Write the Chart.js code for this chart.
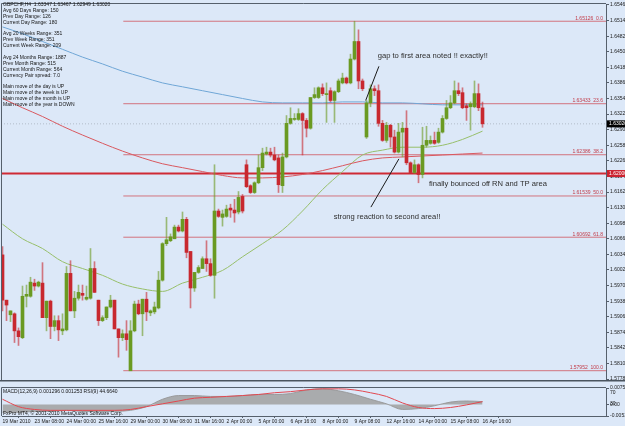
<!DOCTYPE html>
<html><head><meta charset="utf-8">
<script src="https://cdn.jsdelivr.net/npm/chart.js@4.4.1/dist/chart.umd.min.js"></script>
<style>
html,body{margin:0;padding:0;background:#dce8f8;width:625px;height:426px;overflow:hidden;}
#c1{position:absolute;left:0;top:0;}
#c2{position:absolute;left:0;top:384px;}
</style></head><body>
<canvas id="c1" width="625" height="384"></canvas>
<canvas id="c2" width="625" height="42"></canvas>
<script>
// ---------------- data ----------------
const symbolHeader = 'GBPCHF,H4  1.63347 1.63467 1.62949 1.63020';
const opens = [1.6033,1.5940,1.5910,1.5912,1.5877,1.5863,1.5948,1.5948,1.5975,1.5969,
1.5975,1.5904,1.5938,1.5886,1.5898,1.5877,1.5879,1.5995,1.5918,1.5944,
1.5954,1.5942,1.5944,1.6005,1.5940,1.5898,1.5904,1.5926,1.5940,1.5881,
1.5863,1.5871,1.5795,1.5877,1.5932,1.5912,1.5942,1.5914,1.5916,1.5924,
1.5981,1.6056,1.6062,1.6066,1.6090,1.6082,1.6106,1.6040,1.5965,1.5997,
1.6005,1.6025,1.6015,1.5991,1.6123,1.6110,1.6112,1.6129,1.6125,1.6121,
1.6153,1.6218,1.6175,1.6161,1.6181,1.6212,1.6240,1.6244,1.6238,1.6232,
1.6175,1.6234,1.6303,1.6311,1.6311,1.6323,1.6309,1.6293,1.6356,1.6356,
1.6376,1.6362,1.6370,1.6350,1.6368,1.6386,1.6396,1.6386,1.6435,1.6471,
1.6390,1.6275,1.6345,1.6374,1.6370,1.6303,1.6268,1.6299,1.6275,1.6244,
1.6285,1.6293,1.6222,1.6202,1.6218,1.6198,1.6258,1.6262,1.6268,1.6264,
1.6285,1.6313,1.6335,1.6345,1.6370,1.6366,1.6339,1.6337,1.6337,1.6364,
1.63347];
const highs = [1.6050,1.5940,1.5918,1.5914,1.5883,1.5969,1.5971,1.5987,1.5983,1.5979,
1.6017,1.5938,1.5940,1.5908,1.5908,1.5912,1.6009,1.6021,1.5958,1.5971,
1.5971,1.5969,1.6046,1.6019,1.5940,1.5908,1.5926,1.5950,1.5940,1.5881,
1.5879,1.5898,1.5898,1.5938,1.5940,1.5942,1.5956,1.5920,1.5936,1.5999,
1.6058,1.6110,1.6076,1.6094,1.6094,1.6121,1.6110,1.6040,1.5997,1.6011,
1.6029,1.6062,1.6025,1.6218,1.6127,1.6125,1.6135,1.6137,1.6147,1.6163,
1.6157,1.6228,1.6177,1.6183,1.6238,1.6252,1.6254,1.6252,1.6254,1.6238,
1.6242,1.6319,1.6335,1.6323,1.6333,1.6325,1.6313,1.6356,1.6376,1.6378,
1.6384,1.6386,1.6376,1.6370,1.6394,1.6406,1.6398,1.6445,1.65126,1.6495,
1.6394,1.6350,1.6382,1.6380,1.6382,1.6309,1.6305,1.6301,1.6289,1.6303,
1.6305,1.6329,1.6224,1.6228,1.6220,1.6295,1.6297,1.6277,1.6285,1.6293,
1.6319,1.6350,1.6360,1.6390,1.6386,1.6376,1.6343,1.6347,1.6390,1.6384,
1.63467];
const lows = [1.5918,1.5898,1.5896,1.5853,1.5847,1.5861,1.5926,1.5946,1.5960,1.5967,
1.5904,1.5877,1.5861,1.5877,1.5857,1.5869,1.5877,1.5918,1.5904,1.5940,
1.5940,1.5940,1.5942,1.5956,1.5888,1.5896,1.5900,1.5924,1.5881,1.5823,
1.5857,1.5837,1.57952,1.5875,1.5910,1.5867,1.5898,1.5908,1.5912,1.5922,
1.5979,1.6052,1.6060,1.6066,1.6080,1.6080,1.6027,1.5924,1.5958,1.5995,
1.6005,1.5999,1.5989,1.5944,1.6110,1.6092,1.6110,1.6110,1.6100,1.6117,
1.6119,1.6171,1.6159,1.6159,1.6179,1.6206,1.6238,1.6234,1.6226,1.6161,
1.6161,1.6232,1.6301,1.6309,1.6309,1.6238,1.6275,1.6291,1.6354,1.6354,
1.6360,1.6305,1.6347,1.6305,1.6366,1.6384,1.6384,1.6384,1.6433,1.6374,
1.6370,1.6272,1.6337,1.6360,1.6297,1.6266,1.6264,1.6254,1.6242,1.6242,
1.6234,1.6218,1.6200,1.6200,1.6181,1.6191,1.6254,1.6260,1.6260,1.6262,
1.6283,1.6311,1.6333,1.6343,1.6360,1.6333,1.6309,1.6289,1.6335,1.6329,
1.62949];
const closes = [1.5940,1.5930,1.5918,1.5877,1.5865,1.5948,1.5952,1.5977,1.5969,1.5977,
1.5904,1.5938,1.5886,1.5898,1.5879,1.5881,1.5995,1.5918,1.5944,1.5956,
1.5950,1.5946,1.6005,1.5956,1.5898,1.5904,1.5926,1.5940,1.5881,1.5863,
1.5871,1.5859,1.5877,1.5932,1.5912,1.5942,1.5916,1.5918,1.5926,1.5981,
1.6056,1.6064,1.6070,1.6090,1.6082,1.6106,1.6038,1.5965,1.5997,1.6007,
1.6025,1.6015,1.5991,1.6123,1.6112,1.6117,1.6127,1.6125,1.6119,1.6151,
1.6123,1.6173,1.6161,1.6181,1.6212,1.6242,1.6244,1.6238,1.6228,1.6177,
1.6234,1.6303,1.6313,1.6313,1.6323,1.6309,1.6293,1.6356,1.6362,1.6376,
1.6364,1.6364,1.6350,1.6368,1.6390,1.6396,1.6386,1.6435,1.6471,1.6390,
1.6374,1.6345,1.6374,1.6370,1.6303,1.6268,1.6299,1.6275,1.6244,1.6285,
1.6293,1.6222,1.6202,1.6218,1.6198,1.6258,1.6268,1.6268,1.6262,1.6285,
1.6313,1.6335,1.6345,1.6370,1.6364,1.6335,1.6335,1.6343,1.6364,1.6335,
1.63020];

const timeLabels = ['19 Mar 2010','23 Mar 08:00','24 Mar 00:00','25 Mar 16:00','29 Mar 00:00','30 Mar 08:00','31 Mar 16:00','2 Apr 00:00','5 Apr 00:00','6 Apr 16:00','8 Apr 00:00','9 Apr 08:00','12 Apr 16:00','14 Apr 00:00','15 Apr 08:00','16 Apr 16:00'];
const barsPerTimeLabel = 8;
const priceTicks = [1.65460,1.65140,1.64820,1.64500,1.64180,1.63860,1.63540,1.63220,1.62900,1.62580,1.62260,1.61940,1.61620,1.61300,1.60980,1.60660,1.60340,1.60020,1.59700,1.59380,1.59060,1.58740,1.58420,1.58100,1.57780];

// moving averages sampled every 5 bars
const maBars  = [0,5,10,15,20,25,30,35,40,45,50,55,60,65,70,75,80,85,90,95,100,105,110,115,120];
const maBlue  = [1.6501,1.6487,1.6471,1.6455,1.6439,1.6425,1.6410,1.6398,1.6386,1.6378,1.6370,1.6362,1.6354,1.6347,1.6345,1.6345,1.6345,1.6347,1.6347,1.6345,1.6345,1.6343,1.6341,1.6341,1.6341];
const maRed   = [1.6354,1.6335,1.6317,1.6297,1.6279,1.6262,1.6246,1.6232,1.6220,1.6212,1.6204,1.6196,1.6191,1.6191,1.6193,1.6198,1.6206,1.6216,1.6226,1.6232,1.6234,1.6236,1.6238,1.6240,1.6242];
const maGreen = [1.6096,1.6066,1.6046,1.6019,1.6005,1.5991,1.5973,1.5963,1.5958,1.5975,1.5987,1.6001,1.6029,1.6056,1.6084,1.6123,1.6167,1.6204,1.6238,1.6248,1.6254,1.6254,1.6258,1.6270,1.6287];

// Fibonacci retracement object
const fibHigh = 1.65126, fibLow = 1.57952;
const fibLevels = [0, 23.6, 38.2, 50, 61.8, 100];
const fibStartBar = 30.2;
const roundNumber = 1.62000;
const lastPrice = 1.63020;

// hand-drawn trend lines and comments (bar index, price)
const trendLineA = [[90.8, 1.6350], [94.1, 1.6420]];
const trendLineB = [[92.1, 1.6131], [99.1, 1.6230]];
const noteTexts  = ['gap to first area noted !! exactly!!', 'finally bounced off RN and TP area', 'strong reaction to second area!!'];
const noteBars   = [93.8, 106.6, 82.8];
const notePrices = [1.6441, 1.6179, 1.6110];

const infoLines = [symbolHeader,'Avg 60 Days Range: 150','Prev Day Range: 126','Current Day Range: 180','',
'Avg 20 Weeks Range: 351','Prev Week Range: 351','Current Week Range: 209','',
'Avg 24 Months Range: 1887','Prev Month Range: 515','Current Month Range: 564','Currency Pair spread: 7.0','',
'Main move of the day is UP','Main move of the week is UP','Main move of the month is UP','Main move of the year is DOWN'];

// indicator window, sampled every 4 bars
const indBars = [0,4,8,12,16,20,24,28,32,36,40,44,48,52,56,60,64,68,72,76,80,84,88,92,96,100,104,108,112,116,120];
const macdMain   = [-0.0036,-0.0036,-0.0032,-0.0032,-0.0027,-0.0032,-0.0032,-0.0032,-0.0027,-0.0010,0.0024,0.0041,0.0041,0.0037,0.0037,0.0041,0.0046,0.0046,0.0050,0.0067,0.0072,0.0063,0.0046,0.0024,0.0003,-0.0023,-0.0019,-0.0006,0.0011,0.0016,0.0013];
const macdSignal = [0.0024,-0.0010,-0.0023,-0.0027,-0.0027,-0.0027,-0.0027,-0.0027,-0.0023,-0.0010,0.0003,0.0016,0.0029,0.0033,0.0037,0.0041,0.0046,0.0054,0.0059,0.0067,0.0072,0.0072,0.0067,0.0054,0.0037,0.0007,-0.0014,-0.0019,-0.0014,-0.0002,0.0013];
const rsi        = [63.3,33.3,43.3,36.7,40,33.3,36.7,33.3,43.3,40,70,73.3,53.3,60,60,60,63.3,66.7,60,73.3,76.7,73.3,66.7,50,43.3,33.3,36.7,53.3,63.3,60,44.7];
const rsiLevels  = [70, 30];
const macdTicks  = [0.00758, 0, -0.00531];
const macdTickLabels = ['0.00758','0.00','-0.00531'];
const indicatorTitle = 'MACD(12,26,9) 0.001296 0.001253 RSI(9) 44.6640';
const copyrightText = 'FxPro MT4, \u00a9 2001-2010 MetaQuotes Software Corp.';

// ---------------- drawing ----------------
const FONT = '"Liberation Sans", Arial, sans-serif';
const AXIS = '#56606c';
const UP = '#6a9a22', DN = '#c8282f';
const UPW = 'rgba(106,154,34,0.6)', DNW = 'rgba(200,40,47,0.6)';
const X_MIN = -0.125, X_MAX = 150.875;
const isUp = i => closes[i] >= opens[i];
const bars = opens.map((_, i) => i);
const seg = (p, a, b) => [{x: a, y: p}, {x: b, y: p}];
const lineDs = (data, color, width, extra) => Object.assign({type: 'line', data, borderColor: color, borderWidth: width, pointRadius: 0, fill: false, order: 3}, extra || {});

const mainDatasets = [];
fibLevels.forEach(l => {
  const p = fibHigh - (fibHigh - fibLow) * l / 100;
  mainDatasets.push(lineDs(seg(p, fibStartBar, X_MAX + 1), 'rgba(208,86,96,0.8)', 1, {order: 6}));
});
mainDatasets.push(lineDs(seg(roundNumber, X_MIN - 1, X_MAX + 1), '#cf2a35', 2, {order: 6}));
mainDatasets.push(lineDs(seg(lastPrice, X_MIN - 1, X_MAX + 1), 'rgba(150,160,170,0.6)', 1, {borderDash: [1, 2], order: 6}));
mainDatasets.push(lineDs(maBars.map((b, k) => ({x: b, y: maBlue[k]})), '#6fa6d6', 1, {cubicInterpolationMode: 'monotone', order: 4}));
mainDatasets.push(lineDs(maBars.map((b, k) => ({x: b, y: maRed[k]})), '#d9585f', 1, {cubicInterpolationMode: 'monotone', order: 4}));
mainDatasets.push(lineDs(maBars.map((b, k) => ({x: b, y: maGreen[k]})), '#97bf6a', 1, {cubicInterpolationMode: 'monotone', order: 4}));
mainDatasets.push(lineDs(trendLineA.map(p => ({x: p[0], y: p[1]})), '#1a1a1a', 1, {order: 0}));
mainDatasets.push(lineDs(trendLineB.map(p => ({x: p[0], y: p[1]})), '#1a1a1a', 1, {order: 0}));
mainDatasets.push({type: 'bar', data: bars.map(i => ({x: i, y: [lows[i], highs[i]]})),
  backgroundColor: c => isUp(c.dataIndex) ? UPW : DNW, barThickness: 1, grouped: false, order: 2});
mainDatasets.push({type: 'bar', data: bars.map(i => ({x: i, y: [opens[i], closes[i]]})),
  backgroundColor: c => isUp(c.dataIndex) ? UP : DN, barThickness: 3, minBarLength: 1, grouped: false, order: 1});

const mainOverlay = {
  id: 'mainOverlay',
  afterDraw(chart) {
    const {ctx, chartArea: a, scales: {x, y}} = chart;
    ctx.save();
    // frame
    ctx.strokeStyle = AXIS; ctx.lineWidth = 1;
    ctx.beginPath(); ctx.moveTo(a.left - 0.5, a.bottom); ctx.lineTo(a.left - 0.5, a.top - 0.5); ctx.lineTo(a.right, a.top - 0.5); ctx.stroke();
    ctx.fillStyle = '#4a545f'; ctx.fillRect(0, a.bottom, chart.width, 1.5);
    // fib labels
    ctx.font = '5px ' + FONT; ctx.textAlign = 'right'; ctx.textBaseline = 'bottom'; ctx.fillStyle = '#c23a47';
    fibLevels.forEach(l => {
      const p = fibHigh - (fibHigh - fibLow) * l / 100;
      ctx.fillText(p.toFixed(5) + '  ' + l.toFixed(1), a.right - 3, y.getPixelForValue(p) - 0.5);
    });
    // info text
    ctx.textAlign = 'left'; ctx.textBaseline = 'middle'; ctx.fillStyle = '#141414';
    infoLines.forEach((t, k) => { if (t) ctx.fillText(t, 3, 4.7 + k * 5.88); });
    // comments
    ctx.font = '7.6px ' + FONT; ctx.fillStyle = '#2e2e2e';
    noteTexts.forEach((t, k) => ctx.fillText(t, x.getPixelForValue(noteBars[k]), y.getPixelForValue(notePrices[k])));
    // price boxes on the axis
    ctx.font = '5px ' + FONT;
    [[lastPrice, '#000000'], [roundNumber, '#cc2330']].forEach(([p, c]) => {
      const py = y.getPixelForValue(p);
      ctx.fillStyle = c; ctx.fillRect(a.right + 1, py - 3.5, chart.width - a.right - 1, 7);
      ctx.fillStyle = '#ffffff'; ctx.fillText(p.toFixed(5), a.right + 3, py);
    });
    ctx.restore();
  }
};

new Chart(document.getElementById('c1'), {
  type: 'bar',
  data: {datasets: mainDatasets},
  options: {
    responsive: false, animation: false, devicePixelRatio: 1,
    layout: {padding: {left: 2, top: 2, right: 0, bottom: 1}},
    plugins: {legend: {display: false}, tooltip: {enabled: false}},
    scales: {
      x: {type: 'linear', min: X_MIN, max: X_MAX, display: false, offset: false},
      y: {position: 'right', min: 1.57761, max: 1.65480, beginAtZero: false,
        afterFit: s => { s.width = 19; },
        afterBuildTicks: s => { s.ticks = priceTicks.map(v => ({value: v})); },
        ticks: {autoSkip: false, callback: v => Number(v).toFixed(5), font: {family: FONT, size: 5}, color: '#1a1a1a', padding: 1},
        grid: {drawOnChartArea: false, tickLength: 3, color: AXIS},
        border: {color: AXIS}}
    }
  },
  plugins: [mainOverlay]
});

// ---------------- indicator window ----------------
const indDatasets = [
  lineDs(indBars.map((b, k) => ({x: b, y: macdMain[k]})), 'rgba(150,150,150,0.9)', 1,
    {yAxisID: 'm', fill: 'origin', backgroundColor: 'rgba(160,160,160,0.85)', cubicInterpolationMode: 'monotone', order: 5}),
  lineDs(seg(rsiLevels[0], X_MIN - 1, X_MAX + 1), 'rgba(140,150,160,0.8)', 1, {yAxisID: 'r', borderDash: [1, 2], order: 4}),
  lineDs(seg(rsiLevels[1], X_MIN - 1, X_MAX + 1), 'rgba(140,150,160,0.8)', 1, {yAxisID: 'r', borderDash: [1, 2], order: 4}),
  lineDs(indBars.map((b, k) => ({x: b, y: macdSignal[k]})), '#e2474f', 1, {yAxisID: 'm', cubicInterpolationMode: 'monotone', order: 2}),
  lineDs(indBars.map((b, k) => ({x: b, y: rsi[k]})), '#4a3f9a', 1.2, {yAxisID: 'r', order: 1})
];

const indOverlay = {
  id: 'indOverlay',
  afterDraw(chart) {
    const {ctx, chartArea: a, scales} = chart;
    ctx.save();
    ctx.strokeStyle = AXIS; ctx.lineWidth = 1;
    ctx.beginPath(); ctx.moveTo(a.left - 0.5, a.bottom); ctx.lineTo(a.left - 0.5, a.top - 0.5); ctx.lineTo(a.right, a.top - 0.5); ctx.stroke();
    ctx.font = '5px ' + FONT; ctx.fillStyle = '#141414'; ctx.textAlign = 'left'; ctx.textBaseline = 'middle';
    ctx.fillText(indicatorTitle, 3, a.top + 3.5);
    ctx.fillText(copyrightText, 3, a.bottom - 2.5);
    rsiLevels.forEach(v => ctx.fillText(String(v), a.right + 4, scales.r.getPixelForValue(v)));
    ctx.restore();
  }
};

new Chart(document.getElementById('c2'), {
  type: 'bar',
  data: {datasets: indDatasets},
  options: {
    responsive: false, animation: false, devicePixelRatio: 1,
    layout: {padding: {left: 2, top: 2, right: 0, bottom: 0}},
    plugins: {legend: {display: false}, tooltip: {enabled: false}},
    scales: {
      x: {type: 'linear', min: X_MIN, max: X_MAX, offset: false,
        afterFit: s => { s.height = 10; },
        afterBuildTicks: s => { s.ticks = timeLabels.map((t, k) => ({value: k * barsPerTimeLabel})); },
        ticks: {autoSkip: false, maxRotation: 0, align: 'start', padding: 1,
          callback: v => timeLabels[Math.round(v / barsPerTimeLabel)], font: {family: FONT, size: 5}, color: '#1a1a1a'},
        grid: {drawOnChartArea: false, tickLength: 2, color: AXIS}, border: {color: AXIS}},
      m: {position: 'right', min: -0.00531, max: 0.00758,
        afterFit: s => { s.width = 19; },
        afterBuildTicks: s => { s.ticks = macdTicks.map(v => ({value: v})); },
        ticks: {autoSkip: false, callback: (v, i) => macdTickLabels[i], font: {family: FONT, size: 5}, color: '#1a1a1a', padding: 1},
        grid: {drawOnChartArea: false, tickLength: 3, color: AXIS}, border: {color: AXIS}},
      r: {display: false, min: 0, max: 100}
    }
  },
  plugins: [indOverlay]
});
</script></body></html>
